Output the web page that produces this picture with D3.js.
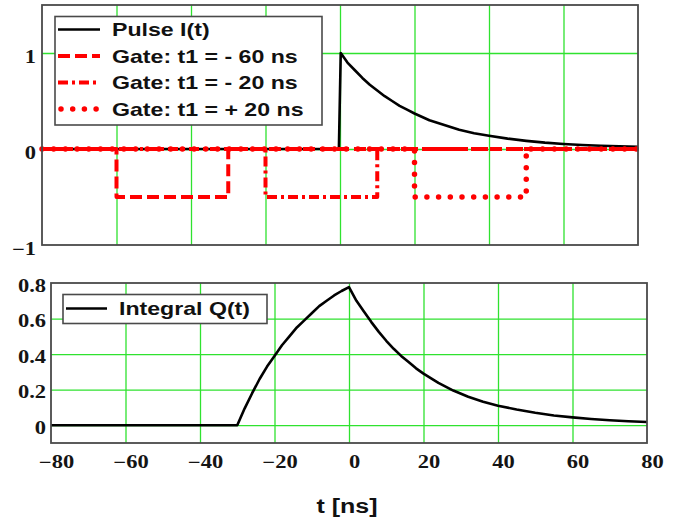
<!DOCTYPE html>
<html>
<head>
<meta charset="utf-8">
<script src="https://cdn.jsdelivr.net/npm/d3@7"></script>
<style>
  html, body { margin: 0; padding: 0; background: #fff; }
  svg { display: block; }
</style>
</head>
<body>
<svg id="chart" width="675" height="518"></svg>
<script>
// ---- data ----
const tTicks = [-80, -60, -40, -20, 0, 20, 40, 60, 80];
const pulseYTicks = [-1, 0, 1];
const chargeYTicks = [0, 0.2, 0.4, 0.6, 0.8];

// detector pulse I(t): zero before t = 0, then a decaying tail
const pulseT = [-80, -0.3, 0.2, 2, 4, 6, 8, 10, 12, 14, 16, 18, 20, 24, 28, 32, 36, 40, 45, 50, 55, 60, 65, 70, 75, 80];
const pulseI = [0, 0, 1.0, 0.90, 0.82, 0.74, 0.67, 0.61, 0.55, 0.50, 0.45, 0.41, 0.37, 0.30, 0.25, 0.20, 0.165, 0.138, 0.108, 0.085, 0.066, 0.052, 0.042, 0.034, 0.028, 0.024];

// integration gates (start, end, level)
const gateLabels = ["Gate: t1 = - 60 ns", "Gate: t1 = - 20 ns", "Gate: t1 = + 20 ns"];
const gateOpen = [-60, -20, 20];
const gateClose = [-30, 10, 50];
const gateLevel = -0.5;

// integrated charge Q(t) for a 30 ns gate starting at t
const chargeT = [-80, -30, -28, -26, -24, -22, -20, -18, -16, -14, -12, -10, -8, -6, -4, -2, 0, 2, 4, 6, 8, 10, 12, 14, 16, 18, 20, 24, 28, 32, 36, 40, 45, 50, 55, 60, 65, 70, 75, 80];
const chargeQ = [0, 0, 0.095, 0.18, 0.26, 0.33, 0.39, 0.45, 0.50, 0.55, 0.59, 0.63, 0.67, 0.70, 0.73, 0.755, 0.777, 0.70, 0.64, 0.58, 0.525, 0.475, 0.43, 0.39, 0.355, 0.32, 0.29, 0.238, 0.195, 0.16, 0.132, 0.11, 0.088, 0.07, 0.055, 0.044, 0.035, 0.028, 0.022, 0.018];

// ---- layout ----
const svg = d3.select("#chart");
const GRID = "#2fe22f";
const FRAME = "#4a4a4a";
const SX = 1.25; // horizontal text stretch

const boxTop = { left: 42, right: 638, top: 5, bottom: 245 };
const boxBot = { left: 51, right: 647, top: 283, bottom: 443 };

const xTop = d3.scaleLinear().domain([-80, 80]).range([boxTop.left, boxTop.right]);
const yTop = d3.scaleLinear().domain([-1, 1.5]).range([boxTop.bottom, boxTop.top]);
const xBot = d3.scaleLinear().domain([-80, 80]).range([boxBot.left, boxBot.right]);
const yBot = d3.scaleLinear().domain([-0.1, 0.8]).range([boxBot.bottom, boxBot.top]);

function grid(box, x, y, yGrid) {
  const w = box.right - box.left, h = box.bottom - box.top;
  const gx = svg.append("g").attr("transform", `translate(0,${box.bottom})`)
    .call(d3.axisBottom(x).tickValues(tTicks.slice(1, -1)).tickSize(-h).tickFormat(""));
  const gy = svg.append("g").attr("transform", `translate(${box.left},0)`)
    .call(d3.axisLeft(y).tickValues(yGrid).tickSize(-w).tickFormat(""));
  [gx, gy].forEach(g => {
    g.select(".domain").remove();
    g.selectAll("line").attr("stroke", GRID).attr("stroke-width", 1.3);
  });
}

function frame(box) {
  svg.append("rect")
    .attr("x", box.left).attr("y", box.top)
    .attr("width", box.right - box.left).attr("height", box.bottom - box.top)
    .attr("fill", "none").attr("stroke", FRAME).attr("stroke-width", 1.8);
}

function leftLabels(box, y, ticks, fmt, pad, dy) {
  const g = svg.append("g").attr("transform", `translate(${box.left},0)`)
    .call(d3.axisLeft(y).tickValues(ticks).tickSize(0).tickPadding(pad).tickFormat(fmt));
  g.select(".domain").remove();
  g.selectAll("text")
    .attr("x", -pad / SX).attr("dy", dy)
    .attr("transform", `scale(${SX},1)`)
    .attr("font-family", "'Liberation Serif', 'Times New Roman', serif")
    .attr("font-weight", "bold").attr("font-size", 18).attr("fill", "#141414");
}

// ---- top panel: pulse and gates ----
grid(boxTop, xTop, yTop, [0, 1]);

const lineTop = d3.line().x(d => xTop(d[0])).y(d => yTop(d[1]));
svg.append("path")
  .datum(pulseT.map((t, i) => [t, pulseI[i]]))
  .attr("d", lineTop).attr("fill", "none")
  .attr("stroke", "#000").attr("stroke-width", 2.6).attr("stroke-linejoin", "round");

const gateStyles = [
  { dash: "12 5", width: 4, cap: "butt" },
  { dash: "10 4 3 4", width: 4, cap: "butt" },
  { dash: "0 11.7", width: 5.5, cap: "round" }
];

function gatePoints(i) {
  return [[-80, 0], [gateOpen[i], 0], [gateOpen[i], gateLevel],
          [gateClose[i], gateLevel], [gateClose[i], 0], [80, 0]];
}

gateOpen.forEach((_, i) => {
  const s = gateStyles[i];
  svg.append("path")
    .datum(gatePoints(i))
    .attr("d", lineTop).attr("fill", "none")
    .attr("stroke", "#ff0000").attr("stroke-width", s.width)
    .attr("stroke-dasharray", s.dash).attr("stroke-linecap", s.cap)
    .attr("stroke-linejoin", "round");
});

frame(boxTop);
leftLabels(boxTop, yTop, pulseYTicks, d3.format("d"), 6, "0.52em");

// legend (top)
const legTop = svg.append("g");
legTop.append("rect").attr("x", 55).attr("y", 16.5).attr("width", 267).attr("height", 108.5)
  .attr("fill", "#fff").attr("stroke", FRAME).attr("stroke-width", 1.6);
const legEntries = [{ label: "Pulse I(t)", color: "#000", dash: null, width: 2.6, cap: "butt" }]
  .concat(gateLabels.map((l, i) => ({ label: l, color: "#ff0000", dash: gateStyles[i].dash, width: gateStyles[i].width, cap: gateStyles[i].cap })));
legEntries.forEach((e, i) => {
  const base = 36 + i * 26.5;
  legTop.append("line")
    .attr("x1", i === 3 ? 61 : 58).attr("x2", 100)
    .attr("y1", base - 6.5).attr("y2", base - 6.5)
    .attr("stroke", e.color).attr("stroke-width", e.width)
    .attr("stroke-dasharray", e.dash).attr("stroke-linecap", e.cap);
  legTop.append("text")
    .attr("transform", `translate(112,${base}) scale(${SX},1)`)
    .attr("font-family", "'Liberation Sans', Arial, sans-serif")
    .attr("font-weight", "bold").attr("font-size", 18.5).attr("fill", "#111")
    .text(e.label);
});

// ---- bottom panel: integrated charge ----
grid(boxBot, xBot, yBot, [0, 0.2, 0.4, 0.6]);

const lineBot = d3.line().x(d => xBot(d[0])).y(d => yBot(d[1]));
svg.append("path")
  .datum(chargeT.map((t, i) => [t, chargeQ[i]]))
  .attr("d", lineBot).attr("fill", "none")
  .attr("stroke", "#000").attr("stroke-width", 2.6).attr("stroke-linejoin", "round");

frame(boxBot);
leftLabels(boxBot, yBot, chargeYTicks, d => d === 0 ? "0" : d3.format(".1f")(d), 5, "0.45em");

const gxl = svg.append("g").attr("transform", `translate(0,${boxBot.bottom})`)
  .call(d3.axisBottom(xBot).tickValues(tTicks).tickSize(0).tickPadding(12).tickFormat(d3.format("d")));
gxl.select(".domain").remove();
gxl.selectAll("text")
  .attr("transform", `scale(${SX},1)`).attr("dx", 5 / SX)
  .attr("font-family", "'Liberation Serif', 'Times New Roman', serif")
  .attr("font-weight", "bold").attr("font-size", 18).attr("fill", "#141414");

// legend (bottom)
const legBot = svg.append("g");
legBot.append("rect").attr("x", 63).attr("y", 294.5).attr("width", 204).attr("height", 29)
  .attr("fill", "#fff").attr("stroke", FRAME).attr("stroke-width", 1.6);
legBot.append("line").attr("x1", 66).attr("x2", 107).attr("y1", 308.5).attr("y2", 308.5)
  .attr("stroke", "#000").attr("stroke-width", 2.6);
legBot.append("text")
  .attr("transform", `translate(119,315) scale(${SX},1)`)
  .attr("font-family", "'Liberation Sans', Arial, sans-serif")
  .attr("font-weight", "bold").attr("font-size", 18.5).attr("fill", "#111")
  .text("Integral Q(t)");

// axis title
svg.append("text")
  .attr("transform", `translate(347,513) scale(${SX},1)`)
  .attr("text-anchor", "middle")
  .attr("font-family", "'Liberation Sans', Arial, sans-serif")
  .attr("font-weight", "bold").attr("font-size", 20).attr("fill", "#111")
  .text("t [ns]");
</script>
</body>
</html>
